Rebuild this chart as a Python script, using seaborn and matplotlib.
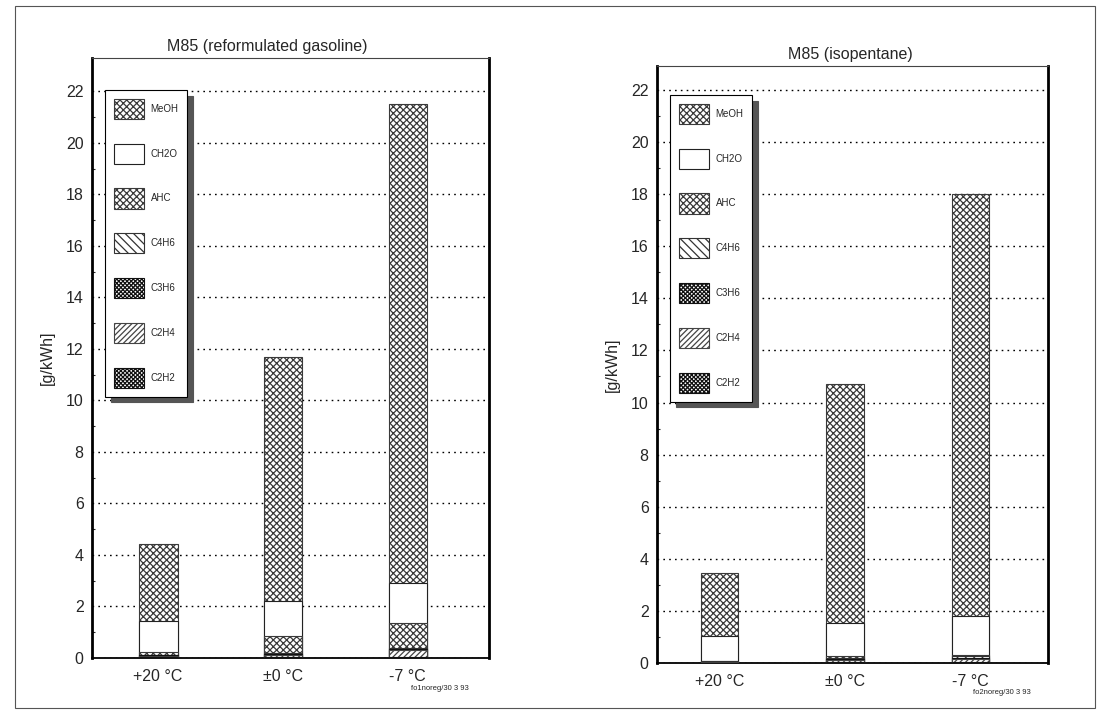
import matplotlib
matplotlib.use("Agg")
import matplotlib.pyplot as plt
import seaborn as sns
import pandas as pd
import numpy as np
from matplotlib.patches import Patch, Rectangle

# ---------------- data ----------------
categories = ['+20 °C', '±0 °C', '-7 °C']
components = ['MeOH', 'CH2O', 'AHC', 'C4H6', 'C3H6', 'C2H4', 'C2H2']

# left panel: M85 (reformulated gasoline)
MeOH_l = [3.0, 9.5, 18.6]
CH2O_l = [1.2, 1.35, 1.55]
AHC_l = [0.1, 0.65, 0.95]
C4H6_l = [0.02, 0.05, 0.05]
C3H6_l = [0.02, 0.03, 0.05]
C2H4_l = [0.06, 0.08, 0.25]
C2H2_l = [0.02, 0.04, 0.05]

# right panel: M85 (isopentane)
MeOH_r = [2.4, 9.15, 16.2]
CH2O_r = [0.97, 1.3, 1.5]
AHC_r = [0.02, 0.05, 0.05]
C4H6_r = [0.01, 0.05, 0.05]
C3H6_r = [0.01, 0.03, 0.05]
C2H4_r = [0.03, 0.1, 0.1]
C2H2_r = [0.01, 0.02, 0.05]

yticks = list(range(0, 23, 2))

titles = ['M85 (reformulated gasoline)', 'M85 (isopentane)']
footers = ['fo1noreg/30 3 93', 'fo2noreg/30 3 93']
ylabel = '[g/kWh]'

# ---------------- style ----------------
sns.set_theme(style='white')
plt.rcParams['font.family'] = ['Liberation Sans', 'DejaVu Sans']
plt.rcParams['hatch.linewidth'] = 0.9

hatches = {'MeOH': 'xxxxx', 'CH2O': '', 'AHC': 'xxxxx', 'C4H6': '\\\\\\\\',
           'C3H6': 'xxxxxxxx', 'C2H4': '//////', 'C2H2': 'xxxxxxxx'}
edgecols = {'MeOH': '#3a3a3a', 'CH2O': '#222222', 'AHC': '#3a3a3a', 'C4H6': '#333333',
            'C3H6': '#111111', 'C2H4': '#444444', 'C2H2': '#111111'}

fig = plt.figure(figsize=(10.99, 7.18), dpi=100)
W, H = 1099, 718

def px_axes(l, t, r, b):
    return fig.add_axes([l / W, 1 - b / H, (r - l) / W, (b - t) / H])

ax_l = px_axes(92, 58, 489, 658)
ax_r = px_axes(657, 66, 1048, 663)

panels = [
    (ax_l, [MeOH_l, CH2O_l, AHC_l, C4H6_l, C3H6_l, C2H4_l, C2H2_l], 23.3, (-0.53, 2.65), 0.31,
     (105, 90)),
    (ax_r, [MeOH_r, CH2O_r, AHC_r, C4H6_r, C3H6_r, C2H4_r, C2H2_r], 22.92, (-0.5, 2.62), 0.30,
     (670, 95)),
]

for ax, series, ytop, xl, bw, legpos in panels:
    # cumulative stacks, bottom-up order is C2H2 ... MeOH
    cum = np.zeros(len(categories))
    stacks = {}
    for name, vals in zip(components[::-1], series[::-1]):
        cum = cum + np.array(vals)
        stacks[name] = cum.copy()
    # draw tallest first so lower layers overlay
    for name in components:
        df = pd.DataFrame({'cat': categories, 'val': stacks[name]})
        sns.barplot(data=df, x='cat', y='val', order=categories, ax=ax,
                    color='white', width=bw, errorbar=None,
                    hatch=hatches[name], edgecolor=edgecols[name], linewidth=0.8,
                    zorder=3)
    ax.set_ylim(0, ytop)
    ax.set_xlim(*xl)
    ax.set_yticks(yticks)
    ax.set_yticks(np.arange(0, 23, 1), minor=True)
    ax.yaxis.grid(True, which='major', linestyle=(0, (1.2, 3)), color='black', linewidth=1.0, zorder=0)
    ax.set_axisbelow(True)
    ax.tick_params(axis='y', which='major', direction='in', length=4, width=1, labelsize=11.5, pad=6)
    ax.tick_params(axis='y', which='minor', direction='in', length=2, width=0.8, left=True)
    ax.tick_params(axis='x', length=0, labelsize=11.5, pad=8)
    ax.set_xlabel('')
    ax.set_ylabel(ylabel, fontsize=11.5, labelpad=8)
    for s in ['left', 'right']:
        ax.spines[s].set_linewidth(2.0)
        ax.spines[s].set_color('black')
    ax.spines['top'].set_linewidth(0.8)
    ax.spines['top'].set_color('#444444')
    ax.spines['bottom'].set_linewidth(1.3)
    ax.spines['bottom'].set_color('black')

    handles = [Patch(facecolor='white', hatch=hatches[n], edgecolor=edgecols[n], linewidth=0.8)
               for n in components]
    # legend anchor in axes fraction from pixel position
    bb = ax.get_position()
    ax_x0, ax_y1 = bb.x0 * W, (1 - bb.y1) * H
    ax_w, ax_h = bb.width * W, bb.height * H
    anchor = ((legpos[0] - ax_x0) / ax_w, 1 - (legpos[1] - ax_y1) / ax_h)
    leg = ax.legend(handles, components, loc='upper left', bbox_to_anchor=anchor,
                    fontsize=7, handlelength=3.1, handleheight=2.8, labelspacing=2.55,
                    borderpad=0.9, handletextpad=0.7, frameon=True, fancybox=False,
                    shadow={'color': '#555555', 'alpha': 1.0, 'ox': 4, 'oy': -4},
                    borderaxespad=0)
    leg.get_frame().set_edgecolor('black')
    leg.get_frame().set_linewidth(0.8)
    leg.set_zorder(5)

# titles
fig.text(267 / W, 1 - 47 / H, titles[0], ha='center', va='center', fontsize=11.5)
fig.text(850 / W, 1 - 55 / H, titles[1], ha='center', va='center', fontsize=11.5)
# footers
fig.text(440 / W, 1 - 689 / H, footers[0], ha='center', va='center', fontsize=5.5)
fig.text(1002 / W, 1 - 693 / H, footers[1], ha='center', va='center', fontsize=5.5)

# outer frame
fig.add_artist(Rectangle((15 / W, 1 - 708 / H), (1095 - 15) / W, (708 - 6) / H,
                         transform=fig.transFigure, fill=False, edgecolor='#555555', linewidth=0.8))

fig.savefig('out.png', dpi=100)
